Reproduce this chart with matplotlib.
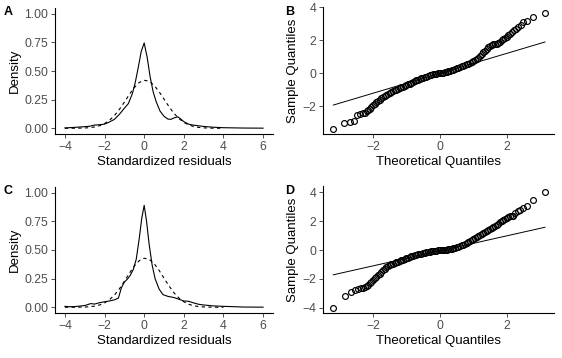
import matplotlib
matplotlib.use("Agg")
import matplotlib.pyplot as plt

plt.rcParams['font.family'] = ['Liberation Sans', 'DejaVu Sans']

# --- density panels (A, C) ---
dens_x_a = [-4.0, -3.5, -3.0, -2.75, -2.5, -2.25, -2.0, -1.75, -1.5, -1.25, -1.0, -0.8,
            -0.6, -0.45, -0.3, -0.15, 0.0, 0.15, 0.3, 0.45, 0.6, 0.8, 1.0, 1.2, 1.35, 1.5,
            1.7, 1.85, 2.0, 2.25, 2.5, 3.0, 3.5, 4.0, 5.0, 6.0]
dens_y_a = [0.003, 0.008, 0.014, 0.018, 0.028, 0.031, 0.036, 0.055, 0.078, 0.122, 0.175, 0.215,
            0.30, 0.40, 0.53, 0.67, 0.745, 0.62, 0.45, 0.32, 0.235, 0.15, 0.105, 0.08, 0.078, 0.09,
            0.10, 0.08, 0.058, 0.035, 0.027, 0.016, 0.009, 0.005, 0.002, 0.001]

dens_x_c = [-4.0, -3.75, -3.5, -3.0, -2.7, -2.5, -2.25, -2.0, -1.75, -1.5, -1.3, -1.15, -1.0,
            -0.85, -0.7, -0.55, -0.4, -0.25, -0.12, 0.0, 0.12, 0.25, 0.4, 0.55, 0.75, 0.95, 1.2,
            1.5, 1.75, 2.0, 2.25, 2.5, 2.75, 3.0, 3.5, 4.0, 4.4, 5.0, 6.0]
dens_y_c = [0.008, 0.005, 0.006, 0.015, 0.032, 0.028, 0.040, 0.048, 0.055, 0.065, 0.08, 0.17, 0.22,
            0.245, 0.28, 0.33, 0.42, 0.6, 0.78, 0.89, 0.75, 0.55, 0.37, 0.25, 0.16, 0.11, 0.095,
            0.085, 0.07, 0.055, 0.052, 0.038, 0.026, 0.02, 0.012, 0.008, 0.006, 0.002, 0.001]

norm_x = [-4.0, -3.5, -3.0, -2.75, -2.5, -2.25, -2.0, -1.75, -1.5, -1.25, -1.0, -0.75, -0.5,
          -0.25, 0.0, 0.25, 0.5, 0.75, 1.0, 1.25, 1.5, 1.75, 2.0, 2.25, 2.5, 2.75, 3.0, 3.5, 4.0]
norm_y_a = [0.0, 0.0004, 0.0024, 0.0055, 0.0115, 0.0224, 0.041, 0.070, 0.111, 0.165, 0.228, 0.295,
            0.355, 0.400, 0.419, 0.411, 0.375, 0.320, 0.255, 0.189, 0.131, 0.085, 0.051, 0.029,
            0.015, 0.0074, 0.0035, 0.0006, 0.0001]
norm_y_c = [0.0, 0.0003, 0.002, 0.0046, 0.010, 0.020, 0.038, 0.066, 0.107, 0.161, 0.227, 0.296,
            0.360, 0.407, 0.428, 0.419, 0.382, 0.323, 0.254, 0.187, 0.127, 0.081, 0.048, 0.026,
            0.013, 0.0064, 0.003, 0.0005, 0.0001]

# --- QQ panels (B, D) ---
band_x = [-2.10, -2.05, -2.00, -1.95, -1.90, -1.85, -1.80, -1.75, -1.70, -1.65, -1.60, -1.55,
          -1.50, -1.45, -1.40, -1.35, -1.30, -1.25, -1.20, -1.15, -1.10, -1.05, -1.00, -0.95,
          -0.90, -0.85, -0.80, -0.75, -0.70, -0.65, -0.60, -0.55, -0.50, -0.45, -0.40, -0.35,
          -0.30, -0.25, -0.20, -0.15, -0.10, -0.05, 0.00, 0.05, 0.10, 0.15, 0.20, 0.25, 0.30,
          0.35, 0.40, 0.45, 0.50, 0.55, 0.60, 0.65, 0.70, 0.75, 0.80, 0.85, 0.90, 0.95, 1.00,
          1.05, 1.10, 1.15, 1.20, 1.25, 1.30, 1.35, 1.40, 1.45, 1.50, 1.55, 1.60, 1.65, 1.70,
          1.75, 1.80, 1.85, 1.90, 1.95, 2.00, 2.05, 2.10]
band_y_b = [-2.13, -2.03, -1.93, -1.84, -1.75, -1.66, -1.58, -1.51, -1.44, -1.37, -1.30, -1.25,
            -1.20, -1.14, -1.08, -1.03, -0.99, -0.94, -0.90, -0.85, -0.81, -0.76, -0.72, -0.67,
            -0.62, -0.57, -0.52, -0.47, -0.43, -0.39, -0.35, -0.31, -0.28, -0.24, -0.20, -0.16,
            -0.13, -0.10, -0.07, -0.04, -0.02, -0.01, 0.00, 0.01, 0.03, 0.05, 0.08, 0.11, 0.14,
            0.18, 0.22, 0.26, 0.30, 0.34, 0.38, 0.42, 0.46, 0.50, 0.54, 0.58, 0.63, 0.68, 0.73,
            0.79, 0.86, 0.95, 1.05, 1.16, 1.27, 1.37, 1.47, 1.56, 1.65, 1.70, 1.74, 1.76, 1.78,
            1.83, 1.90, 2.00, 2.10, 2.16, 2.22, 2.30, 2.38]
band_y_d = [-2.30, -2.18, -2.07, -1.96, -1.85, -1.74, -1.62, -1.50, -1.39, -1.29, -1.18, -1.10,
            -1.04, -0.98, -0.93, -0.88, -0.84, -0.80, -0.75, -0.70, -0.65, -0.60, -0.56, -0.52,
            -0.48, -0.44, -0.40, -0.36, -0.33, -0.30, -0.27, -0.24, -0.21, -0.18, -0.16, -0.13,
            -0.11, -0.09, -0.07, -0.05, -0.03, -0.02, -0.01, 0.00, 0.01, 0.03, 0.04, 0.06, 0.08,
            0.10, 0.13, 0.16, 0.20, 0.24, 0.28, 0.33, 0.38, 0.43, 0.49, 0.55, 0.61, 0.68, 0.75,
            0.82, 0.90, 0.98, 1.06, 1.14, 1.21, 1.28, 1.34, 1.40, 1.47, 1.54, 1.61, 1.69, 1.76,
            1.84, 1.92, 2.00, 2.07, 2.14, 2.21, 2.28, 2.34]

tail_lo_x_b = [-3.19, -2.86, -2.69, -2.57, -2.47, -2.39, -2.31, -2.24, -2.18, -2.14]
tail_lo_y_b = [-3.36, -2.99, -2.94, -2.87, -2.50, -2.46, -2.42, -2.39, -2.30, -2.21]
tail_hi_x_b = [2.16, 2.21, 2.27, 2.34, 2.42, 2.50, 2.62, 2.80, 3.15]
tail_hi_y_b = [2.50, 2.60, 2.70, 2.82, 2.94, 3.07, 3.15, 3.37, 3.64]

tail_lo_x_d = [-3.19, -2.84, -2.66, -2.54, -2.45, -2.37, -2.30, -2.24, -2.18, -2.14]
tail_lo_y_d = [-3.99, -3.18, -2.90, -2.75, -2.68, -2.65, -2.62, -2.58, -2.50, -2.40]
tail_hi_x_d = [2.15, 2.20, 2.26, 2.33, 2.41, 2.50, 2.60, 2.78, 3.15]
tail_hi_y_d = [2.36, 2.38, 2.60, 2.70, 2.78, 2.95, 3.06, 3.46, 4.02]

# qqline slope / intercept
line_b = (0.60, -0.0)
line_d = (0.52, -0.05)

TICK_COL = '#4D4D4D'


def style(ax):
    for s in ['top', 'right']:
        ax.spines[s].set_visible(False)
    for s in ['left', 'bottom']:
        ax.spines[s].set_linewidth(0.8)
        ax.spines[s].set_color('black')
    ax.tick_params(axis='both', length=3, width=0.6, color='#333333',
                   labelcolor=TICK_COL, labelsize=8.8, pad=2)


def density_panel(ax, xs, ys, ny):
    ax.plot(xs, ys, color='black', lw=0.8)
    ax.plot(norm_x, ny, color='black', lw=0.8, linestyle=(0, (3, 3)))
    ax.set_xlim(-4.5, 6.5)
    ax.set_ylim(-0.05, 1.05)
    ax.set_xticks([-4, -2, 0, 2, 4, 6])
    ax.set_yticks([0, 0.25, 0.5, 0.75, 1.0])
    ax.set_yticklabels(['0.00', '0.25', '0.50', '0.75', '1.00'])
    ax.set_xlabel('Standardized residuals', fontsize=9.5, labelpad=2)
    ax.set_ylabel('Density', fontsize=9.5, labelpad=2)
    style(ax)


def qq_panel(ax, y_band, lo_x, lo_y, hi_x, hi_y, line, ylim, yticks):
    xs = lo_x + band_x + hi_x
    ys = lo_y + y_band + hi_y
    ax.plot(xs, ys, linestyle='none', marker='o', markersize=4.2,
            markerfacecolor='none', markeredgecolor='black', markeredgewidth=0.85)
    x0, x1 = min(xs), max(xs)
    slope, icpt = line
    ax.plot([x0, x1], [icpt + slope * x0, icpt + slope * x1], color='black', lw=0.7)
    ax.set_xlim(-3.5, 3.42)
    ax.set_ylim(*ylim)
    ax.set_xticks([-2, 0, 2])
    ax.set_yticks(yticks)
    ax.set_xlabel('Theoretical Quantiles', fontsize=9.5, labelpad=2)
    ax.set_ylabel('Sample Quantiles', fontsize=9.5, labelpad=2)
    style(ax)


fig = plt.figure(figsize=(5.62, 3.58), dpi=100)
W, H = 562, 358


def add_ax(l, r, t, b):
    return fig.add_axes([l / W, (H - b) / H, (r - l) / W, (b - t) / H])


ax_a = add_ax(55, 273, 8, 134)
ax_b = add_ax(323, 554, 7, 134)
ax_c = add_ax(55, 273, 187, 313)
ax_d = add_ax(323, 554, 186, 313)

density_panel(ax_a, dens_x_a, dens_y_a, norm_y_a)
density_panel(ax_c, dens_x_c, dens_y_c, norm_y_c)
qq_panel(ax_b, band_y_b, tail_lo_x_b, tail_lo_y_b, tail_hi_x_b, tail_hi_y_b, line_b,
         (-3.66, 3.99), [-2, 0, 2, 4])
qq_panel(ax_d, band_y_d, tail_lo_x_d, tail_lo_y_d, tail_hi_x_d, tail_hi_y_d, line_d,
         (-4.36, 4.45), [-4, -2, 0, 2, 4])

for lab, (px, py) in zip('ABCD', [(4, 12), (285, 12), (4, 191), (285, 191)]):
    fig.text(px / W, 1 - py / H, lab, fontsize=9, fontweight='bold', va='center', ha='left')

fig.savefig('out.png', dpi=100)
